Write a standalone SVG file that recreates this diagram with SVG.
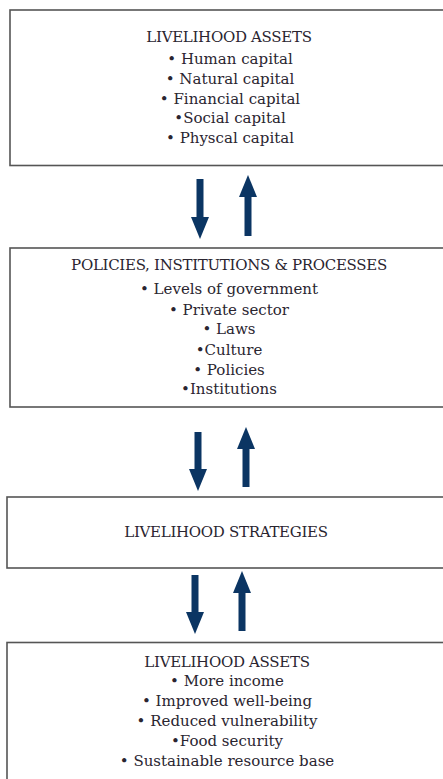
<svg xmlns="http://www.w3.org/2000/svg" width="443" height="779" viewBox="0 0 443 779">
<style>
.box{fill:#fff;stroke:#555;stroke-width:1.6}
.t{font-family:"DejaVu Serif","Liberation Serif",serif;font-size:15px;fill:#2a2530;text-anchor:middle}
.h{letter-spacing:-0.3px}
.arr{stroke:#0b3563;stroke-width:7;fill:none;marker-end:url(#head)}
</style>
<defs>
<marker id="head" markerUnits="userSpaceOnUse" markerWidth="22" markerHeight="18" refX="0" refY="9" orient="auto">
<path d="M0,0 L22,9 L0,18 z" fill="#0b3563"/>
</marker>
</defs>
<rect width="443" height="779" fill="#fff"/>
<g id="node-assets">
<rect class="box" x="10" y="10" width="440" height="155.5"/>
<text class="t h" x="229" y="42">LIVELIHOOD ASSETS</text>
<text class="t" x="230" y="64">• Human capital</text>
<text class="t" x="230" y="84">• Natural capital</text>
<text class="t" x="230" y="104">• Financial capital</text>
<text class="t" x="230" y="123">•Social capital</text>
<text class="t" x="230" y="143">• Physcal capital</text>
</g>
<g id="node-policies">
<rect class="box" x="10" y="248" width="440" height="159"/>
<text class="t h" x="229" y="270">POLICIES, INSTITUTIONS &amp; PROCESSES</text>
<text class="t" x="229" y="294">• Levels of government</text>
<text class="t" x="229" y="315">• Private sector</text>
<text class="t" x="229" y="334">• Laws</text>
<text class="t" x="229" y="355">•Culture</text>
<text class="t" x="229" y="375">• Policies</text>
<text class="t" x="229" y="394">•Institutions</text>
</g>
<g id="node-strategies">
<rect class="box" x="7" y="497" width="443" height="71"/>
<text class="t h" x="226" y="537">LIVELIHOOD STRATEGIES</text>
</g>
<g id="node-outcomes">
<rect class="box" x="7" y="642.5" width="443" height="150"/>
<text class="t h" x="227" y="667">LIVELIHOOD ASSETS</text>
<text class="t" x="227" y="686">• More income</text>
<text class="t" x="227" y="706">• Improved well-being</text>
<text class="t" x="227" y="726">• Reduced vulnerability</text>
<text class="t" x="227" y="746">•Food security</text>
<text class="t" x="227" y="766">• Sustainable resource base</text>
</g>
<g id="connectors">
<line class="arr" x1="200" y1="179" x2="200" y2="217"/>
<line class="arr" x1="248" y1="236" x2="248" y2="197"/>
<line class="arr" x1="198" y1="432" x2="198" y2="469"/>
<line class="arr" x1="246" y1="487" x2="246" y2="449"/>
<line class="arr" x1="195" y1="575" x2="195" y2="612"/>
<line class="arr" x1="242" y1="631" x2="242" y2="593"/>
</g>
</svg>
